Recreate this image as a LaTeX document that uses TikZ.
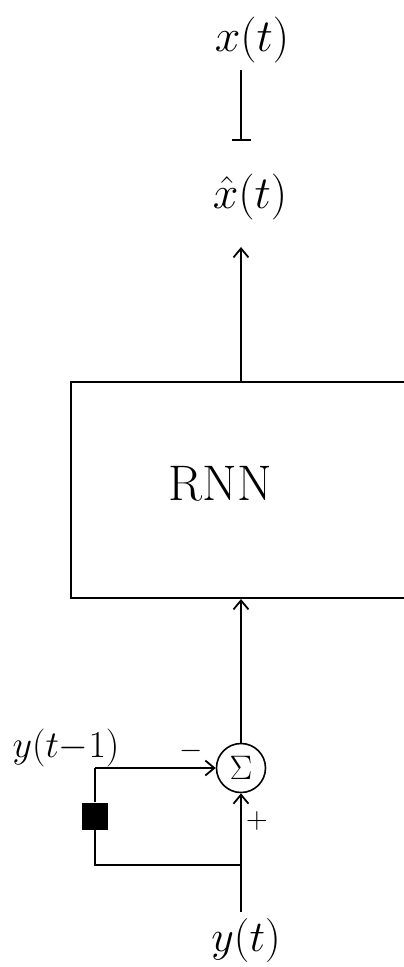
\RequirePackage{fix-cm}
\documentclass[tikz,border=0pt]{standalone}
\usetikzlibrary{arrows.meta}
\begin{document}
\begin{tikzpicture}[x=1pt,y=-1pt,
  wire/.style={line width=1.6pt},
  arr/.style={wire,-{Straight Barb[length=9pt,width=15pt,line width=1.8pt]}},
  hand/.style={inner sep=0pt,font=\fontsize{46}{52}\selectfont},
  handsm/.style={inner sep=0pt,font=\fontsize{38}{44}\selectfont},
  handmd/.style={inner sep=0pt,font=\fontsize{44}{50}\selectfont},
  sign/.style={inner sep=0pt,font=\fontsize{30}{34}\selectfont}]
\useasboundingbox (0,0) rectangle (404,967);
% labels
\node[hand] (xt) at (252,40) {$x(t)$};
\node[hand] (xhat) at (250,197) {$\hat{x}(t)$};
\coordinate (bartop) at (241,70);
\coordinate (barbot) at (241,141);
\draw[wire,-{Bar[width=19pt,line width=1.6pt]}] (bartop) -- (barbot);
% RNN box (right side runs past the edge)
\coordinate (boxtl) at (71,382);
\coordinate (boxbl) at (71,598);
\draw[line width=2.4pt] (404,382) -- (boxtl) -- (boxbl) -- (404,598);
\node[inner sep=0pt,font=\fontsize{50}{58}\selectfont] (rnn) at (220,484) {RNN};
\coordinate (outtop) at (241,247);
\coordinate (outbot) at (241,382);
\draw[arr] (outbot) -- (outtop);
% summing junction
\node[draw,circle,line width=1.6pt,minimum size=49pt,inner sep=0pt,font=\fontsize{34}{38}\selectfont] (sum) at (241,768) {$\Sigma$};
\coordinate (inbot) at (241,599);
\draw[arr] (sum.north) -- (inbot);
% delay path
\coordinate (ytop) at (95,768);
\node[fill=black,minimum width=26pt,minimum height=27pt,inner sep=0pt] (delay) at (95,816) {};
\coordinate (ybl) at (95,865);
\coordinate (yjoin) at (241,865);
\coordinate (yin) at (241,912);
\draw[wire] (delay.north) -- (ytop);
\draw[arr] (ytop) -- (sum.west);
\draw[wire] (delay.south) -- (ybl) -- (yjoin);
\draw[arr] (yin) -- (sum.south);
\node[sign] (minus) at (191,751) {$-$};
\node[sign] (plus) at (257,821) {$+$};
\node[handsm] (ytm) at (66,748) {$y(t{-}1)$};
\node[handmd] (yt) at (246,940) {$y(t)$};
\end{tikzpicture}
\end{document}
